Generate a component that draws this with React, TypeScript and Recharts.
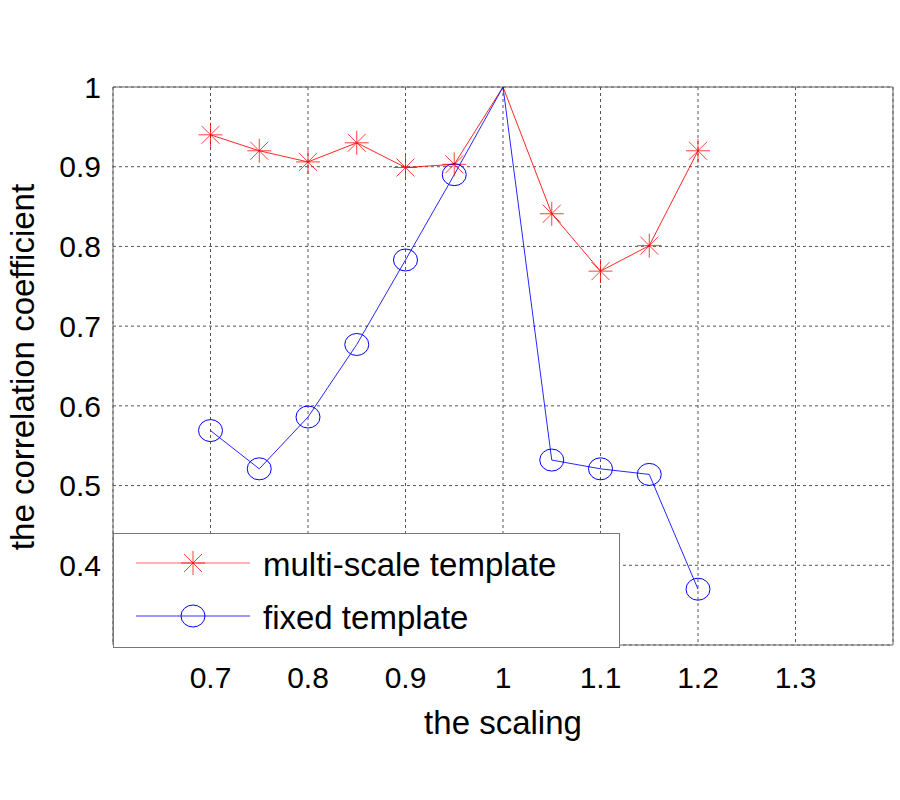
import {
  CartesianGrid,
  Label,
  Legend,
  Line,
  LineChart,
  ReferenceArea,
  XAxis,
  YAxis,
} from 'recharts'

const scales = [0.7, 0.75, 0.8, 0.85, 0.9, 0.95, 1.0, 1.05, 1.1, 1.15, 1.2]
const multiScale = [0.94, 0.92, 0.906, 0.93, 0.899, 0.903, 1.0, 0.841, 0.769, 0.801, 0.92]
const fixedTemplate = [0.569, 0.521, 0.586, 0.677, 0.783, 0.89, 1.0, 0.532, 0.521, 0.514, 0.37]
// the reference draws no marker at the shared peak
const unmarkedScale = 1.0
const xTicks = [0.7, 0.8, 0.9, 1, 1.1, 1.2, 1.3]
const yTicks = [0.4, 0.5, 0.6, 0.7, 0.8, 0.9, 1]

const multiData = scales.map((x, i) => ({ x, y: multiScale[i] }))
const fixedData = scales.map((x, i) => ({ x, y: fixedTemplate[i] }))

const RED = '#ff0000'
const BLUE = '#0000ff'
const FONT = '"Liberation Sans", Arial, Helvetica, sans-serif'

function Star({ cx, cy, payload }: any) {
  if (cx == null || cy == null) return null
  if (payload && payload.x === unmarkedScale) return null
  const r = 12
  const d = 9
  return (
    <g stroke={RED} strokeWidth={1} strokeOpacity={0.75}>
      <line x1={cx - r} y1={cy} x2={cx + r} y2={cy} />
      <line x1={cx} y1={cy - r} x2={cx} y2={cy + r} />
      <line x1={cx - d} y1={cy - d} x2={cx + d} y2={cy + d} />
      <line x1={cx - d} y1={cy + d} x2={cx + d} y2={cy - d} />
    </g>
  )
}

function Circle({ cx, cy, payload }: any) {
  if (cx == null || cy == null) return null
  if (payload && payload.x === unmarkedScale) return null
  return <ellipse cx={cx} cy={cy} rx={12} ry={11} fill="none" stroke={BLUE} strokeWidth={1} />
}

function LegendBox() {
  return (
    <svg width={507} height={115} style={{ display: 'block' }}>
      <rect x={0.5} y={0.5} width={506} height={114} fill="#fff" stroke="#777" />
      <line x1={23} y1={30} x2={137} y2={30} stroke={RED} strokeWidth={1} strokeOpacity={0.6} />
      <Star cx={80} cy={30} />
      <text x={150} y={31} dominantBaseline="central" fontSize={33} fontFamily={FONT} fill="#000">
        multi-scale template
      </text>
      <line x1={23} y1={83} x2={137} y2={83} stroke={BLUE} strokeWidth={1} strokeOpacity={0.8} />
      <Circle cx={80} cy={83} />
      <text x={150} y={84} dominantBaseline="central" fontSize={33} fontFamily={FONT} fill="#000">
        fixed template
      </text>
    </svg>
  )
}

export default function App() {
  return (
    <div style={{ position: 'absolute', left: 0, top: 0, background: '#fff' }}>
      <LineChart width={900} height={800} margin={{ top: 87, right: 7, left: 0, bottom: 0 }}>
        <CartesianGrid stroke="#555" strokeDasharray="3 3" />
        <XAxis
          dataKey="x"
          type="number"
          domain={[0.6, 1.4]}
          ticks={xTicks}
          height={155}
          axisLine={false}
          tickLine={false}
          tickSize={0}
          tickMargin={22}
          tick={{ fontSize: 30, fontFamily: FONT, fill: '#000' }}
          allowDataOverflow
        >
          <Label
            content={() => (
              <text x={503} y={734} textAnchor="middle" fontSize={33} fontFamily={FONT} fill="#000">
                the scaling
              </text>
            )}
          />
        </XAxis>
        <YAxis
          type="number"
          domain={[0.3, 1]}
          ticks={yTicks}
          width={113}
          axisLine={false}
          tickLine={false}
          tickSize={0}
          tickMargin={12}
          tick={{ fontSize: 30, fontFamily: FONT, fill: '#000' }}
          allowDataOverflow
        >
          <Label
            content={() => (
              <text
                x={22}
                y={367}
                transform="rotate(-90 22 367)"
                textAnchor="middle"
                dominantBaseline="central"
                fontSize={33}
                fontFamily={FONT}
                fill="#000"
              >
                the correlation coefficient
              </text>
            )}
          />
        </YAxis>
        <ReferenceArea x1={0.6} x2={1.4} y1={0.3} y2={1} fill="none" stroke="#666" strokeWidth={1} />
        <Line
          data={multiData}
          dataKey="y"
          stroke={RED}
          strokeWidth={1}
          strokeOpacity={0.85}
          dot={<Star />}
          activeDot={false}
          isAnimationActive={false}
        />
        <Line
          data={fixedData}
          dataKey="y"
          stroke={BLUE}
          strokeWidth={1}
          strokeOpacity={0.85}
          dot={<Circle />}
          activeDot={false}
          isAnimationActive={false}
        />
        <Legend
          layout="horizontal"
          verticalAlign="middle"
          align="center"
          content={() => <LegendBox />}
          wrapperStyle={{ left: 113, top: 533, width: 507, height: 115 }}
        />
      </LineChart>
    </div>
  )
}
